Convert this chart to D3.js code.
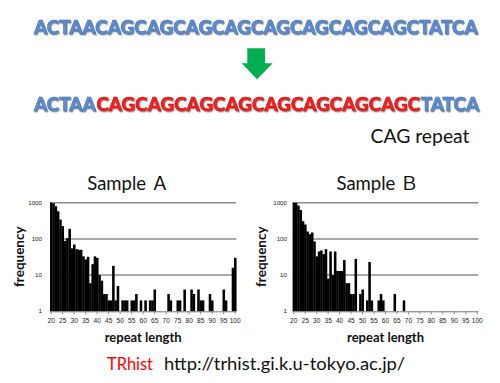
<!DOCTYPE html>
<html>
<head>
<meta charset="utf-8">
<script src="https://cdn.jsdelivr.net/npm/d3@7"></script>
<style>
  html, body { margin: 0; padding: 0; background: #fff; }
  svg { display: block; }
</style>
</head>
<body>
<svg id="chart" width="500" height="383"></svg>
<script>
// ---------------- data ----------------
const repeatLengths = [20,21,22,23,24,25,26,27,28,29,30,31,32,33,34,35,36,37,38,39,
  40,41,42,43,44,45,46,47,48,49,50,51,52,53,54,55,56,57,58,59,
  60,61,62,63,64,65,66,67,68,69,70,71,72,73,74,75,76,77,78,79,
  80,81,82,83,84,85,86,87,88,89,90,91,92,93,94,95,96,97,98,99,100];

const sampleA = [1000,960,800,580,340,225,88,105,190,55,
  70,52,50,50,33,27,32,6,20,33,
  30,10,7,3,3,2,2,18,2,5,
  0,2,2,2,0,2,2,3,0,2,
  0,2,0,2,2,4,0,0,0,0,
  0,3,2,0,0,2,2,0,4,0,
  0,4,3,0,4,2,2,0,0,3,
  2,0,0,0,0,4,2,0,0,16,
  30];

const sampleB = [1000,980,830,630,310,250,160,135,150,85,
  33,45,48,38,52,8,45,10,45,13,
  13,13,26,6,6,3,3,28,0,3,
  4,0,2,23,2,0,0,2,3,2,
  0,0,0,0,3,0,0,0,2,0,
  0,0,0,0,0,0,0,0,0,0,
  0,0,0,0,0,0,0,0,0,0,
  0,0,0,0,0,0,0,0,0,0,
  0];

const xTickLabels = [20,25,30,35,40,45,50,55,60,65,70,75,80,85,90,95,100];
const yTickLabels = [1,10,100,1000];
const gridValues = [10,100,1000];
const panelTitles = ["Sample Ａ", "Sample Ｂ"];

const seqPrefix = "ACTAA";
const seqRepeat = "CAGCAGCAGCAGCAGCAGCAGCAGC";
const seqSuffix = "TATCA";

// ---------------- drawing ----------------
const svg = d3.select("#chart");
svg.append("rect").attr("width", 500).attr("height", 383).attr("fill", "#fff");

const defs = svg.append("defs");
const f = defs.append("filter").attr("id", "shadow")
  .attr("x", "-5%").attr("y", "-30%").attr("width", "110%").attr("height", "160%");
f.append("feDropShadow").attr("dx", 0.8).attr("dy", 1.2)
  .attr("stdDeviation", 0.5).attr("flood-color", "#555").attr("flood-opacity", 0.6);

const seqFont = "Lato, 'Open Sans', sans-serif";
const blue = "#5b8ed6", blueEdge = "#3a6aad";
const red = "#ff1a1a", redEdge = "#c00000";

// find a font size so the whole sequence fits 446px naturally
const probe = svg.append("text").attr("font-family", seqFont).attr("font-weight", 900)
  .attr("font-size", 20).text(seqPrefix + seqRepeat + seqSuffix);
const seqSize = 20 * 444 / probe.node().getComputedTextLength();
probe.remove();

function seqLine(y, colored) {
  const parts = colored
    ? [[seqPrefix, blue, blueEdge], [seqRepeat, red, redEdge], [seqSuffix, blue, blueEdge]]
    : [[seqPrefix + seqRepeat + seqSuffix, blue, blueEdge]];
  const g = svg.append("g").attr("filter", "url(#shadow)");
  let x0 = 34;
  parts.forEach(p => {
    const t = g.append("text")
      .attr("x", x0).attr("y", y)
      .attr("font-family", seqFont).attr("font-weight", 900)
      .attr("font-size", seqSize)
      .attr("fill", p[1]).attr("stroke", p[2]).attr("stroke-width", 0.5)
      .text(p[0]);
    x0 += t.node().getComputedTextLength() + 0.6;
  });
}
seqLine(33.5, false);
seqLine(110.8, true);

// green arrow
const arrowPts = [[247.3,48.3],[265,48.3],[265,63.3],[272.7,63.3],[257,79.3],[241.7,63.3],[247.3,63.3]];
svg.append("path")
  .attr("d", d3.line()(arrowPts) + "Z")
  .attr("fill", "#00b050");

svg.append("text")
  .attr("x", 370.5).attr("y", 143.3)
  .attr("font-family", "Lato, sans-serif").attr("font-size", 19.5)
  .attr("textLength", 99).attr("lengthAdjust", "spacingAndGlyphs")
  .attr("fill", "#111").text("CAG repeat");

// panels
const panels = [
  { title: panelTitles[0], values: sampleA, left: 50, right: 236.3, titleX: 128.3, freqX: 19.5, yLabRight: 42 },
  { title: panelTitles[1], values: sampleB, left: 292.6, right: 478.4, titleX: 377.5, freqX: 261, yLabRight: 287 }
];

const yTop = 202.7, yBottom = 311.3;
const y = d3.scaleLog().domain([1, 1000]).range([yBottom, yTop]);

panels.forEach(p => {
  const g = svg.append("g");
  const x = d3.scaleBand().domain(repeatLengths).range([p.left, p.right]).padding(0);
  const bw = x.bandwidth();

  // gridlines
  g.selectAll("line.grid").data(gridValues).join("line")
    .attr("class", "grid")
    .attr("x1", p.left).attr("x2", p.right)
    .attr("y1", d => y(d)).attr("y2", d => y(d))
    .attr("stroke", "#8c8c8c").attr("stroke-width", 1.5);

  // bars
  const data = repeatLengths.map((len, i) => ({ len, v: p.values[i] })).filter(d => d.v > 0);
  g.selectAll("rect.bar").data(data).join("rect")
    .attr("class", "bar")
    .attr("x", d => x(d.len))
    .attr("width", bw + 0.25)
    .attr("y", d => y(d.v))
    .attr("height", d => y(1) - y(d.v))
    .attr("fill", "#000");

  // x axis line + ticks
  g.append("line")
    .attr("x1", p.left).attr("x2", p.right)
    .attr("y1", y(1) + 0.5).attr("y2", y(1) + 0.5)
    .attr("stroke", "#777").attr("stroke-width", 1);
  g.selectAll("line.tick").data(xTickLabels).join("line")
    .attr("class", "tick")
    .attr("x1", d => x(d) + bw / 2).attr("x2", d => x(d) + bw / 2)
    .attr("y1", y(1)).attr("y2", y(1) + 3)
    .attr("stroke", "#777").attr("stroke-width", 0.8);
  g.selectAll("text.xt").data(xTickLabels).join("text")
    .attr("class", "xt")
    .attr("x", d => x(d) + bw / 2).attr("y", 322.6)
    .attr("text-anchor", "middle")
    .attr("font-family", "'Liberation Sans', Arial, sans-serif")
    .attr("font-size", 6.6).attr("fill", "#222")
    .text(d => d);

  // y tick labels
  g.selectAll("text.yt").data(yTickLabels).join("text")
    .attr("class", "yt")
    .attr("x", p.yLabRight).attr("y", d => y(d))
    .attr("dy", "0.35em")
    .attr("text-anchor", "end")
    .attr("font-family", "'Liberation Sans', Arial, sans-serif")
    .attr("font-size", 6.2).attr("fill", "#222")
    .text(d => d);

  // title
  g.append("text")
    .attr("x", p.titleX).attr("y", 189.5)
    .attr("text-anchor", "middle")
    .attr("font-family", "Lato, 'Noto Sans CJK JP', sans-serif")
    .attr("font-size", 18.5).attr("fill", "#111")
    .text(p.title);

  // y axis title
  g.append("text")
    .attr("transform", `translate(${p.freqX + 4.5},256.7) rotate(-90)`)
    .attr("text-anchor", "middle")
    .attr("font-family", "Lato, sans-serif").attr("font-weight", 700)
    .attr("font-size", 13.5).attr("fill", "#111")
    .text("frequency");

  // x axis title
  g.append("text")
    .attr("x", (p.left + p.right) / 2).attr("y", 341.5)
    .attr("text-anchor", "middle")
    .attr("font-family", "Lato, sans-serif").attr("font-weight", 700)
    .attr("font-size", 13).attr("fill", "#111")
    .text("repeat length");
});

// footer
svg.append("text")
  .attr("x", 107).attr("y", 370)
  .attr("font-family", "Lato, sans-serif").attr("font-size", 17.5)
  .attr("textLength", 46).attr("lengthAdjust", "spacingAndGlyphs")
  .attr("fill", "#ff0000").text("TRhist");
svg.append("text")
  .attr("x", 164).attr("y", 370)
  .attr("font-family", "Lato, sans-serif").attr("font-size", 17.5)
  .attr("textLength", 241).attr("lengthAdjust", "spacingAndGlyphs")
  .attr("fill", "#111").text("http://trhist.gi.k.u-tokyo.ac.jp/");
</script>
</body>
</html>
